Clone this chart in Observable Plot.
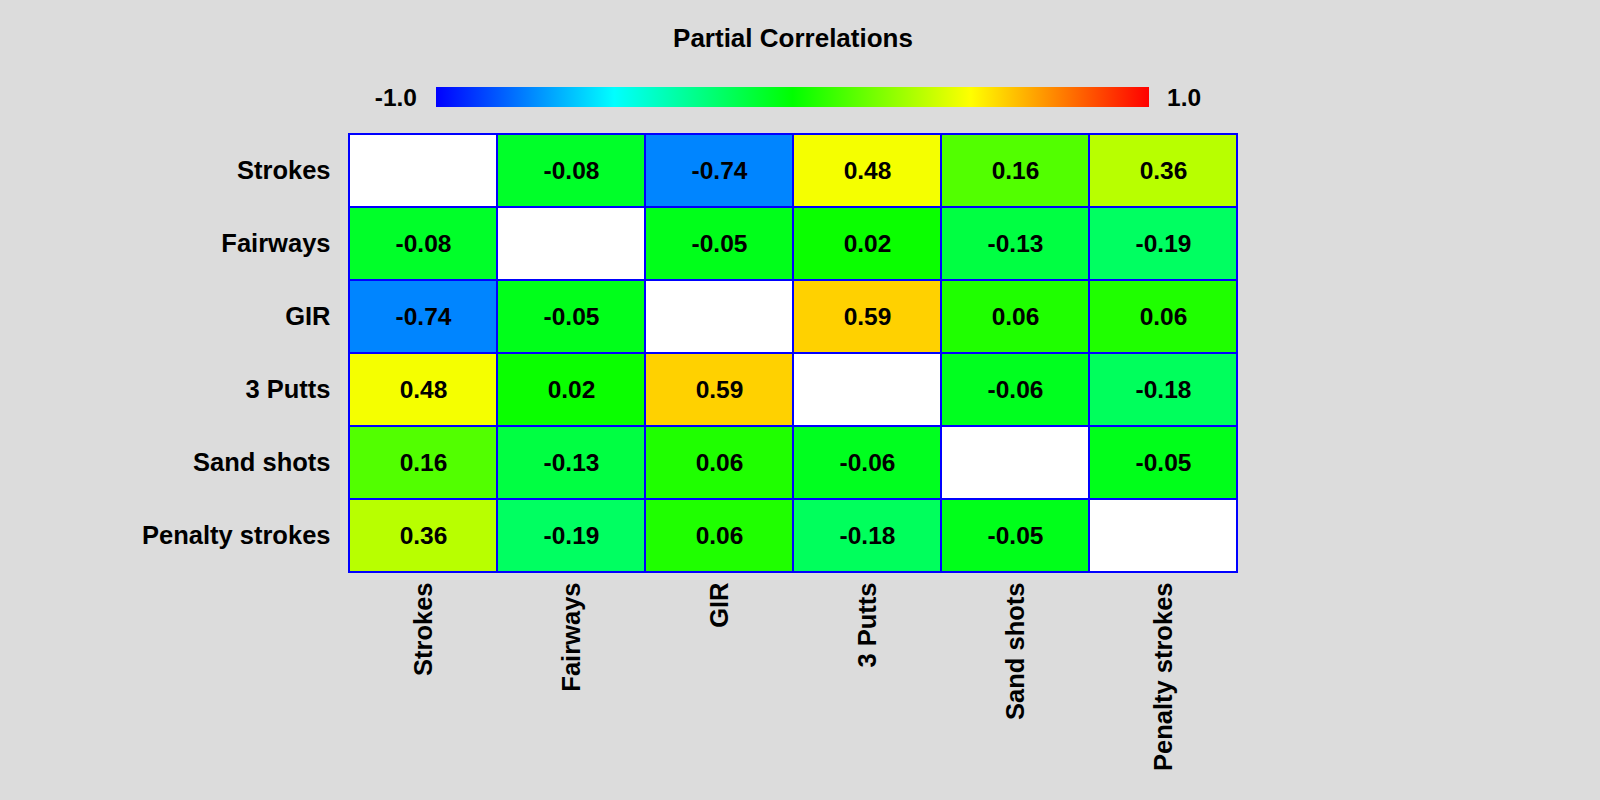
<!DOCTYPE html>
<html>
<head>
<meta charset="utf-8">
<script src="https://cdn.jsdelivr.net/npm/d3@7"></script>
<script src="https://cdn.jsdelivr.net/npm/@observablehq/plot@0.6"></script>
<style>
  html, body { margin: 0; padding: 0; background: #DCDCDC; }
  #wrap { position: relative; width: 1600px; height: 800px; background: #DCDCDC; font-family: "Liberation Sans", Arial, sans-serif; overflow: hidden; }
  #title { position: absolute; left: 0; width: 1586px; top: 25px; text-align: center; font-weight: bold; font-size: 26px; line-height: 1; color: #000; white-space: nowrap; }
  #bar { position: absolute; left: 436px; top: 87px; width: 713px; height: 19.5px; }
  .blab { position: absolute; top: 85.5px; font-weight: bold; font-size: 24.5px; line-height: 1; color: #000; white-space: nowrap; }
  #plot { position: absolute; left: 0; top: 0; }
</style>
</head>
<body>
<div id="wrap">
  <div id="plot"></div>
  <div id="title">Partial Correlations</div>
  <div id="bar"></div>
  <div class="blab" id="lmin" style="right:1183px;"></div>
  <div class="blab" id="lmax" style="left:1167px;"></div>
</div>
<script>
const variables = ["Strokes", "Fairways", "GIR", "3 Putts", "Sand shots", "Penalty strokes"];
const rowStrokes   = [null, -0.08, -0.74, 0.48, 0.16, 0.36];
const rowFairways  = [-0.08, null, -0.05, 0.02, -0.13, -0.19];
const rowGIR       = [-0.74, -0.05, null, 0.59, 0.06, 0.06];
const row3Putts    = [0.48, 0.02, 0.59, null, -0.06, -0.18];
const rowSand      = [0.16, -0.13, 0.06, -0.06, null, -0.05];
const rowPenalty   = [0.36, -0.19, 0.06, -0.18, -0.05, null];
const colorDomain = [-1, -0.5, 0, 0.5, 1];
const colorRange = ["#0000FF", "#00FFFF", "#00FF00", "#FFFF00", "#FF0000"];
const barLabels = ["-1.0", "1.0"];

const rows = [rowStrokes, rowFairways, rowGIR, row3Putts, rowSand, rowPenalty];
const data = [];
rows.forEach((r, i) => r.forEach((v, j) => data.push({row: variables[i], col: variables[j], value: v})));
const valued = data.filter(d => d.value != null);
const diag = data.filter(d => d.value == null);

document.getElementById("bar").style.background =
  "linear-gradient(to right, " + colorRange.map((c, i) => c + " " + ((colorDomain[i] + 1) / 2 * 100) + "%").join(", ") + ")";
document.getElementById("lmin").textContent = barLabels[0];
document.getElementById("lmax").textContent = barLabels[1];

const chart = Plot.plot({
  width: 1600,
  height: 800,
  marginLeft: 348,
  marginRight: 363,
  marginTop: 131,
  marginBottom: 226,
  style: {background: "transparent", fontFamily: "Liberation Sans, Arial, sans-serif", color: "#000"},
  x: {type: "band", domain: variables, padding: 0, label: null},
  y: {type: "band", domain: variables, padding: 0, label: null},
  color: {type: "linear", domain: colorDomain, range: colorRange, interpolate: "rgb", clamp: true},
  marks: [
    Plot.cell(diag, {x: "col", y: "row", fill: "white", stroke: "#0000FF", strokeWidth: 2}),
    Plot.cell(valued, {x: "col", y: "row", fill: "value", stroke: "#0000FF", strokeWidth: 2}),
    Plot.text(valued, {x: "col", y: "row", text: d => d.value.toFixed(2), fill: "black", fontSize: 24.5, fontWeight: "bold"}),
    Plot.axisY({tickSize: 0, tickPadding: 18, fontSize: 25.5, fontWeight: "bold", label: null}),
    Plot.axisX({anchor: "bottom", tickSize: 0, tickPadding: 8, tickRotate: -90, fontSize: 25.5, fontWeight: "bold", label: null})
  ]
});
document.getElementById("plot").appendChild(chart);
</script>
</body>
</html>
